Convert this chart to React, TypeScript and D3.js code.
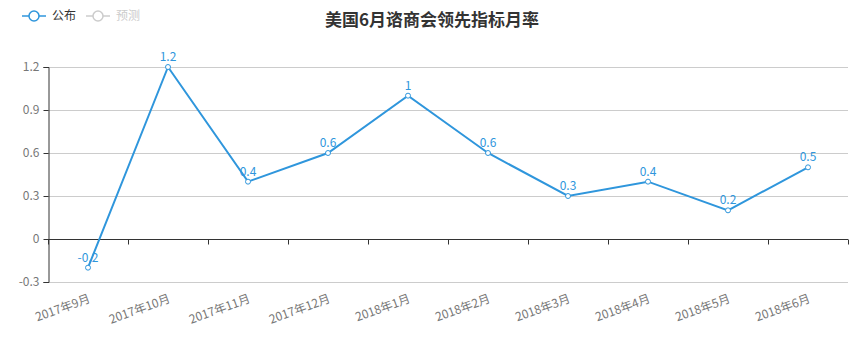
import React, { useEffect, useRef } from 'react';
import * as d3 from 'd3';

const months = [
  '2017年9月', '2017年10月', '2017年11月', '2017年12月', '2018年1月',
  '2018年2月', '2018年3月', '2018年4月', '2018年5月', '2018年6月',
];
const published = [-0.2, 1.2, 0.4, 0.6, 1, 0.6, 0.3, 0.4, 0.2, 0.5];
const yTicks = [-0.3, 0, 0.3, 0.6, 0.9, 1.2];
const legendItems = ['公布', '预测'];

const BLUE = '#2f96dc';
const FONT = '"Noto Sans CJK SC", "Noto Sans", sans-serif';

const App = () => {
  const ref = useRef<SVGSVGElement | null>(null);

  useEffect(() => {
    const width = 864;
    const height = 354;
    const margin = { top: 67, right: 16, bottom: 72, left: 48 };
    const plotBottom = 282;

    const svg = d3.select(ref.current);
    svg.selectAll('*').remove();
    svg.style('font-family', FONT);

    const x = d3
      .scaleBand()
      .domain(months)
      .range([margin.left, width - margin.right]);
    const y = d3
      .scaleLinear()
      .domain([-0.3, 1.2])
      .range([plotBottom, margin.top]);

    // title
    svg
      .append('text')
      .attr('x', width / 2)
      .attr('y', 26)
      .attr('text-anchor', 'middle')
      .style('font-size', '17px')
      .style('font-weight', 'bold')
      .style('fill', '#333')
      .text('美国6月谘商会领先指标月率');

    // legend
    const legend = svg.append('g');
    legendItems.forEach((name, i) => {
      const g = legend.append('g').attr('transform', `translate(${22 + i * 64},16)`);
      const c = i === 0 ? BLUE : '#ccc';
      g.append('line').attr('x1', 0).attr('x2', 24).attr('stroke', c).attr('stroke-width', 1.5);
      g.append('circle').attr('cx', 12).attr('r', 5).attr('fill', '#fff').attr('stroke', c).attr('stroke-width', 1.5);
      g.append('text')
        .attr('x', 30)
        .attr('dy', '0.35em')
        .style('font-size', '12px')
        .style('fill', i === 0 ? '#333' : '#ccc')
        .text(name);
    });

    // grid lines
    svg
      .append('g')
      .selectAll('line')
      .data(yTicks)
      .join('line')
      .attr('x1', margin.left)
      .attr('x2', width - margin.right)
      .attr('y1', (d) => Math.round(y(d)) + 0.5)
      .attr('y2', (d) => Math.round(y(d)) + 0.5)
      .attr('stroke', '#ccc');

    // y axis
    const yAxis = svg
      .append('g')
      .attr('transform', `translate(${margin.left + 0.5},0)`)
      .call(
        d3
          .axisLeft(y)
          .tickValues(yTicks)
          .tickSize(5)
          .tickPadding(4)
          .tickFormat((d) => String(+(+d).toFixed(1)))
      );
    yAxis.select('.domain').attr('stroke', '#333');
    yAxis.selectAll('.tick line').attr('stroke', '#333');
    yAxis.selectAll('.tick text').style('font-size', '12px').style('fill', '#777').style('font-family', FONT);

    // x axis at zero
    const x0 = Math.round(y(0)) + 0.5;
    const xAxisG = svg.append('g').attr('transform', `translate(0,${x0})`);
    xAxisG
      .append('line')
      .attr('x1', margin.left)
      .attr('x2', width - margin.right)
      .attr('stroke', '#333');
    const bounds = months.map((m) => x(m) as number).concat([width - margin.right]);
    xAxisG
      .selectAll('line.tk')
      .data(bounds)
      .join('line')
      .attr('class', 'tk')
      .attr('x1', (d) => Math.round(d) + 0.5)
      .attr('x2', (d) => Math.round(d) + 0.5)
      .attr('y1', 0)
      .attr('y2', 5)
      .attr('stroke', '#333');

    // x labels (rotated)
    const labelY = plotBottom + 20;
    svg
      .append('g')
      .selectAll('text')
      .data(months)
      .join('text')
      .attr('text-anchor', 'end')
      .attr('transform', (d) => {
        const cx = (x(d) as number) + x.bandwidth() / 2 + 3;
        return `translate(${cx},${labelY}) rotate(-20)`;
      })
      .style('font-size', '12px')
      .style('fill', '#777')
      .text((d) => d);

    // line
    const cx = (i: number) => (x(months[i]) as number) + x.bandwidth() / 2;
    const line = d3
      .line<number>()
      .x((_, i) => cx(i))
      .y((d) => y(d));
    svg
      .append('path')
      .datum(published)
      .attr('d', line)
      .attr('fill', 'none')
      .attr('stroke', BLUE)
      .attr('stroke-width', 2);

    svg
      .append('g')
      .selectAll('circle')
      .data(published)
      .join('circle')
      .attr('cx', (_, i) => cx(i))
      .attr('cy', (d) => y(d))
      .attr('r', 2.5)
      .attr('fill', '#fff')
      .attr('stroke', BLUE)
      .attr('stroke-width', 1);

    svg
      .append('g')
      .selectAll('text')
      .data(published)
      .join('text')
      .attr('x', (_, i) => cx(i))
      .attr('y', (d) => y(d) - 6)
      .attr('text-anchor', 'middle')
      .style('font-size', '12px')
      .style('fill', BLUE)
      .text((d) => String(d));
  }, []);

  return (
    <div style={{ margin: -8 }}>
      <svg ref={ref} width={864} height={354} style={{ display: 'block', background: '#fff' }} />
    </div>
  );
};

export default App;
